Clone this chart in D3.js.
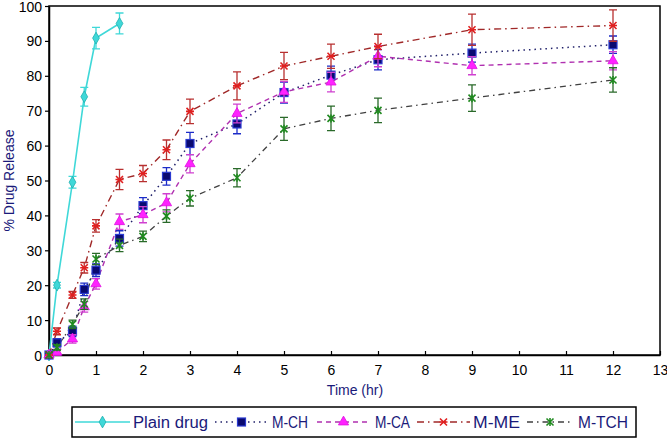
<!DOCTYPE html>
<html><head><meta charset="utf-8">
<script src="https://cdn.jsdelivr.net/npm/d3@7"></script>
<style>body{margin:0;background:#fff}svg{display:block}</style>
</head><body>
<script>
const timePlain = [0, 0.17, 0.5, 0.75, 1, 1.5];
const plainDrug = [0, 20, 49.5, 74, 90.8, 95];
const plainErr = [0, 0.8, 1.7, 2.7, 3.1, 3];

const timeM = [0, 0.17, 0.5, 0.75, 1, 1.5, 2, 2.5, 3, 4, 5, 6, 7, 9, 12];
const mCH  = [0, 3.5, 6.8, 18.8, 24.3, 33.4, 42.8, 51.2, 60.6, 66.2, 75.2, 80.2, 84.6, 86.5, 88.9];
const mCHErr  = [0, 1.2, 1.5, 1.8, 1.8, 2.2, 2.3, 2.5, 3.2, 2.8, 3, 2.6, 2.9, 2.6, 2.5];
const mCA  = [0, 0.8, 4.6, 13.8, 20.4, 38.2, 40.2, 43.6, 54.8, 69.2, 75.4, 78.2, 85.6, 82.9, 84.3];
const mCAErr  = [0, 0.8, 1.2, 1.5, 1.5, 2.2, 2.3, 2.6, 2.6, 2.7, 3, 2.8, 3, 2.6, 2.6];
const mME  = [0, 6.8, 17.2, 25, 37, 50.3, 52, 58.8, 69.8, 77.1, 82.8, 85.6, 88.4, 93.2, 94.4];
const mMEErr  = [0, 1, 1, 1.5, 1.8, 2.9, 2.3, 2.8, 3.5, 4, 3.9, 3.5, 3.5, 4.5, 4.5];
const mTCH = [0, 2.2, 8.8, 14.6, 27.5, 31.4, 34, 39.8, 44.9, 50.8, 64.8, 67.8, 70.1, 73.6, 78.8];
const mTCHErr = [0, 0.8, 1.2, 1.5, 1.6, 1.8, 1.5, 1.8, 2.2, 2.6, 3.3, 3.5, 3.5, 3.8, 3.5];

const xTicks = d3.range(0, 14, 1);
const yTicks = d3.range(0, 101, 10);
const legendLabels = ["Plain drug", "M-CH", "M-CA", "M-ME", "M-TCH"];

const W = 667, H = 438;
const svg = d3.select("body").append("svg").attr("width", W).attr("height", H)
  .style("font-family", "'Liberation Sans', Arial, sans-serif");

const x = d3.scaleLinear().domain([0, 13]).range([49, 660]);
const y = d3.scaleLinear().domain([0, 100]).range([355, 6]);

// frame
svg.append("rect").attr("x", x(0)).attr("y", y(100)).attr("width", x(13) - x(0)).attr("height", y(0) - y(100))
  .attr("fill", "none").attr("stroke", "#000").attr("stroke-width", 1.5);

// axes
const xAxis = svg.append("g").attr("transform", `translate(0,${y(0)})`)
  .call(d3.axisBottom(x).tickValues(xTicks).tickSizeInner(-4).tickSizeOuter(0).tickPadding(10));
const yAxis = svg.append("g").attr("transform", `translate(${x(0)},0)`)
  .call(d3.axisLeft(y).tickValues(yTicks).tickSizeInner(4).tickSizeOuter(0).tickPadding(3));
[xAxis, yAxis].forEach(g => {
  g.select(".domain").attr("stroke", "#000").attr("stroke-width", 1.5);
  g.selectAll(".tick line").attr("stroke", "#000").attr("stroke-width", 1.2);
  g.selectAll("text").attr("fill", "#000").style("font-size", "14px")
    .style("font-family", "'Liberation Sans', Arial, sans-serif");
});
yAxis.selectAll("text").attr("dy", "0.36em");

// axis titles
svg.append("text").attr("x", 355).attr("y", 395).attr("text-anchor", "middle")
  .attr("fill", "#1a1a7a").style("font-size", "14px").text("Time (hr)");
svg.append("text").attr("transform", `translate(14,${y(50)}) rotate(-90)`).attr("text-anchor", "middle")
  .attr("fill", "#1a1a7a").style("font-size", "14px").text("% Drug Release");

// marker shapes
function drawMarker(g, type, cx, cy, fill, stroke) {
  if (type === "diamond") {
    g.append("path").attr("d", d3.symbol().type(d3.symbolDiamond).size(40)()).attr("transform", `translate(${cx},${cy})`)
      .attr("fill", fill).attr("stroke", stroke).attr("stroke-width", 0.8);
  } else if (type === "square") {
    g.append("rect").attr("x", cx - 4).attr("y", cy - 4).attr("width", 8).attr("height", 8)
      .attr("fill", fill).attr("stroke", stroke).attr("stroke-width", 1.2);
  } else if (type === "triangle") {
    g.append("path").attr("d", d3.symbol().type(d3.symbolTriangle).size(45)()).attr("transform", `translate(${cx},${cy})`)
      .attr("fill", fill).attr("stroke", stroke).attr("stroke-width", 0.8);
  } else if (type === "cross") {
    g.append("path").attr("d", `M${cx-3.5},${cy-3.5}L${cx+3.5},${cy+3.5}M${cx-3.5},${cy+3.5}L${cx+3.5},${cy-3.5}M${cx-4},${cy}L${cx+4},${cy}`)
      .attr("stroke", stroke).attr("stroke-width", 1.6).attr("fill", "none");
  } else if (type === "asterisk") {
    g.append("path").attr("d", `M${cx-3.5},${cy-3.5}L${cx+3.5},${cy+3.5}M${cx-3.5},${cy+3.5}L${cx+3.5},${cy-3.5}M${cx},${cy-4}L${cx},${cy+4}`)
      .attr("stroke", stroke).attr("stroke-width", 1.6).attr("fill", "none");
  }
}

const series = [
  {name: legendLabels[0], t: timePlain, v: plainDrug, e: plainErr, line: "#3fd8d8", dash: null, lw: 1.6, marker: "diamond", mfill: "#3fd8d8", mstroke: "#20b0b0", ecol: "#3fd8d8"},
  {name: legendLabels[1], t: timeM, v: mCH, e: mCHErr, line: "#20206a", dash: "1.5,4", lw: 1.5, marker: "square", mfill: "#0a0a70", mstroke: "#2a3ad0", ecol: "#1c2cc8"},
  {name: legendLabels[2], t: timeM, v: mCA, e: mCAErr, line: "#b030b0", dash: "5,4", lw: 1.4, marker: "triangle", mfill: "#ff22ff", mstroke: "#e010e0", ecol: "#d040d0"},
  {name: legendLabels[3], t: timeM, v: mME, e: mMEErr, line: "#a02828", dash: "7,4,1.5,4", lw: 1.4, marker: "cross", mfill: "#e02020", mstroke: "#e02020", ecol: "#b83030"},
  {name: legendLabels[4], t: timeM, v: mTCH, e: mTCHErr, line: "#404040", dash: "6,4,1.5,4", lw: 1.3, marker: "asterisk", mfill: "#208a20", mstroke: "#208a20", ecol: "#2a6a2a"}
];

const plot = svg.append("g");
series.forEach(s => {
  const pts = s.t.map((t, i) => ({t, v: s.v[i], e: s.e[i]}));
  const line = d3.line().x(d => x(d.t)).y(d => y(d.v));
  plot.append("path").datum(pts).attr("d", line).attr("fill", "none")
    .attr("stroke", s.line).attr("stroke-width", s.lw).attr("stroke-dasharray", s.dash);
});
series.forEach(s => {
  const g = plot.append("g");
  s.t.forEach((t, i) => {
    const cx = x(t), e = s.e[i];
    if (e > 0) {
      const y1 = y(s.v[i] + e), y2 = y(s.v[i] - e);
      g.append("path").attr("d", `M${cx},${y1}L${cx},${y2}M${cx-4},${y1}L${cx+4},${y1}M${cx-4},${y2}L${cx+4},${y2}`)
        .attr("stroke", s.ecol).attr("stroke-width", 1.3).attr("fill", "none");
    }
    drawMarker(g, s.marker, cx, y(s.v[i]), s.mfill, s.mstroke);
  });
});

// legend
const lg = svg.append("g");
lg.append("rect").attr("x", 72).attr("y", 407).attr("width", 564).attr("height", 30)
  .attr("fill", "#fff").attr("stroke", "#000").attr("stroke-width", 1.5);
const legItems = [
  {x0: 75, x1: 130, tx: 133, tw: 75},
  {x0: 215, x1: 268, tx: 272, tw: 36},
  {x0: 317, x1: 370, tx: 375, tw: 35},
  {x0: 417, x1: 470, tx: 473, tw: 47},
  {x0: 527, x1: 573, tx: 578, tw: 50}
];
series.forEach((s, i) => {
  const it = legItems[i], ly = 422;
  lg.append("line").attr("x1", it.x0).attr("x2", it.x1).attr("y1", ly).attr("y2", ly)
    .attr("stroke", s.line).attr("stroke-width", s.lw).attr("stroke-dasharray", s.dash);
  drawMarker(lg, s.marker, (it.x0 + it.x1) / 2, ly, s.mfill, s.mstroke);
  lg.append("text").attr("x", it.tx).attr("y", 428).attr("fill", "#1a1a7a").style("font-size", "16px")
    .attr("textLength", it.tw).attr("lengthAdjust", "spacingAndGlyphs").text(s.name);
});
</script>
</body></html>
